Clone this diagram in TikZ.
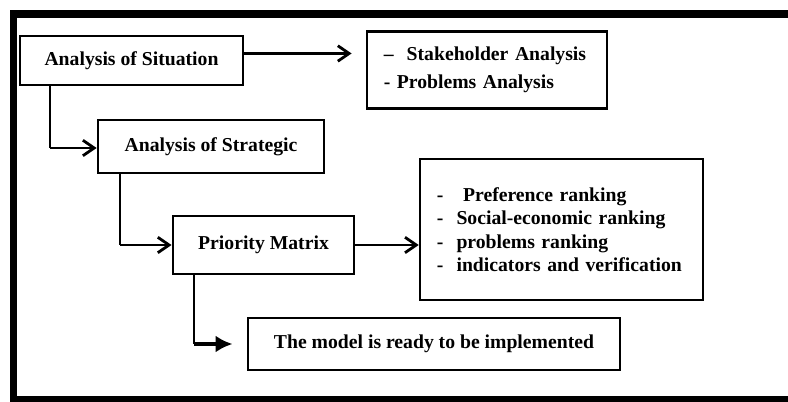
\documentclass[tikz,border=0pt]{standalone}
\usepackage{fontspec}
\setmainfont{Liberation Serif}
\usepackage{tikz}
\usetikzlibrary{arrows.meta}

\begin{document}
\begin{tikzpicture}[x=0.025cm, y=-0.025cm, box/.style={draw, rectangle, line width=1.9pt, inner sep=0pt, font=\fontsize{14}{17}\selectfont\bfseries}, lst/.style={box, align=left, inner xsep=0.42cm}, n/.style={-{Straight Barb[length=8pt, width=11pt]}, line width=2pt}, t/.style={line width=1.2pt}, b/.style={-{Latex[length=12pt, width=12pt]}, line width=3pt}]
                \useasboundingbox (0,0) rectangle (788,401);
                % frame
                \draw[line width=5.3pt] (790,14) -- (13.5,14) -- (13.5,399.5) -- (790,399.5);
                % nodes
                \node[box, minimum width=5.58cm, minimum height=1.23cm] (sit) at (131.5,60.5) {Analysis of Situation};
                \node[lst, minimum height=1.93cm, text width=5.16cm, font=\fontsize{14}{19.5}\selectfont\bfseries] (stake) at (487,70) {--\ \ Stakeholder Analysis\\- Problems Analysis};
                \node[box, minimum width=5.65cm, minimum height=1.33cm] (strat) at (211,146.5) {Analysis of Strategic};
                \node[box, minimum width=4.53cm, minimum height=1.45cm] (prio) at (263.5,245) {Priority Matrix};
                \node[lst, minimum height=3.53cm, text width=6.23cm, font=\fontsize{14}{16.7}\selectfont\bfseries] (rank) at (561.5,229.5) {-\ \ \ Preference ranking\\-\ \ Social-economic ranking\\-\ \ problems ranking\\-\ \ indicators and verification};
                \node[box, minimum width=9.3cm, minimum height=1.3cm] (model) at (434,344) {The model is ready to be implemented};
                % edges
                \coordinate (k1) at (50,148);
                \coordinate (k2) at (120,245);
                \coordinate (k3) at (194,344);
                \draw[n, shorten >=10pt] ([yshift=5pt]sit.east) -- ([yshift=5pt]sit.east -| stake.west);
                \draw[t] (sit.south -| k1) -- (k1);
                \draw[n] (k1) -- (k1 -| strat.west);
                \draw[t] (strat.south -| k2) -- (k2);
                \draw[n] (k2) -- (prio.west);
                \draw[n] (prio.east) -- (prio.east -| rank.west);
                \draw[t] (prio.south -| k3) -- (k3);
                \draw[b, shorten >=10pt] (k3) -- (model.west);
            \end{tikzpicture}
\end{document}
